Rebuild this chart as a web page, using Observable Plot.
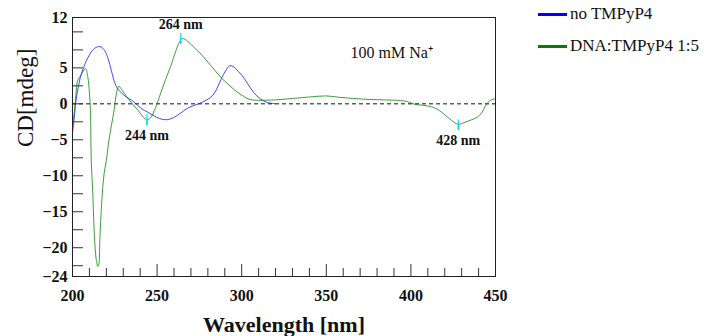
<!DOCTYPE html>
<html>
<head>
<meta charset="utf-8">
<script src="https://cdn.jsdelivr.net/npm/d3@7"></script>
<script src="https://cdn.jsdelivr.net/npm/@observablehq/plot@0.6"></script>
<style>
  html, body { margin: 0; padding: 0; background: #fff; }
  #wrap { position: relative; width: 704px; height: 336px; overflow: hidden; }
  #legend { position: absolute; left: 538px; top: 0; font-family: "Liberation Serif", serif; font-size: 17px; color: #111; }
  .item { position: absolute; white-space: nowrap; display: flex; align-items: center; }
  .swatch { display: inline-block; width: 29px; height: 3px; margin-right: 3px; }
</style>
</head>
<body>
<div id="wrap"><div id="legend"></div></div>
<script>
// ---- Data ----
const seriesNames = ["no TMPyP4", "DNA:TMPyP4 1:5"];
const seriesColors = ["#0000ff", "#008000"];

const blueWl = [200, 201, 202, 203, 204, 205, 206.5, 208, 210, 212, 214, 215.5, 217, 219, 221, 223, 225, 227, 229, 232, 235, 238, 241, 244, 247, 250, 253, 256, 259, 262, 265, 268, 271, 275, 279, 283, 285.5, 288, 290.5, 293, 295.5, 298, 300, 303, 307, 311, 315, 320];
const blueCD = [-4.1, -2.0, 0.3, 1.8, 3.0, 4.0, 5.0, 5.9, 6.8, 7.5, 7.85, 7.95, 7.9, 7.4, 6.3, 4.6, 2.9, 2.0, 1.5, 0.9, 0.5, -0.1, -0.7, -1.1, -1.5, -1.9, -2.15, -2.2, -2.0, -1.6, -1.1, -0.6, -0.3, 0.05, 0.5, 1.2, 2.2, 3.5, 4.6, 5.3, 5.1, 4.5, 4.0, 3.0, 1.6, 0.7, 0.2, 0.0];

const greenWl = [200, 201, 202, 203, 205, 207.7, 209, 210, 210.6, 211.1, 212, 213, 214, 215, 215.6, 216.2, 217.6, 218.8, 220, 221.5, 223, 224.4, 225.5, 226.5, 227.4, 229, 232, 235, 238, 241, 243, 244.5, 246.5, 249, 252, 255, 258, 261, 263, 265, 268, 272, 276, 280, 284, 288, 292, 296, 300, 305, 310, 320, 330, 340, 350, 358, 366, 376, 385, 394, 398, 402, 407, 412, 416, 420, 424, 428, 432, 436, 439, 442, 444, 446, 448, 450];
const greenCD = [-3.0, -1.3, 1.2, 3.2, 4.0, 4.9, 3.8, 1.5, -0.9, -7.9, -12.5, -18.6, -21.6, -22.6, -22.2, -18.6, -12.5, -9.5, -7.9, -5.1, -3.0, -1.2, 0.8, 2.0, 2.45, 2.0, 1.0, 0.1, -0.7, -1.6, -2.1, -2.25, -1.8, -0.6, 1.4, 3.4, 5.2, 7.3, 8.5, 9.1, 8.7, 7.8, 6.9, 5.8, 4.7, 3.6, 2.7, 1.9, 1.2, 0.6, 0.5, 0.55, 0.75, 0.95, 1.1, 0.9, 0.75, 0.6, 0.55, 0.45, 0.3, -0.05, -0.2, -0.4, -0.8, -1.5, -2.3, -2.85, -2.55, -2.2, -1.9, -1.2, -0.3, 0.3, 0.6, 0.7];

const peakWl = [264, 244, 428];
const peakCD = [9.1, -2.2, -2.9];
const peakLabels = ["264 nm", "244 nm", "428 nm"];
const peakLabelAbove = [true, false, false];

const xTicksMajor = [200, 250, 300, 350, 400, 450];
const xTicksMinor = d3.range(210, 450, 10).filter(v => v % 50 !== 0);
const yTickLabels = [12, 5, 0, -5, -10, -15, -20, -24];
const yTicksMinor = d3.range(-22.5, 12, 2.5);

const xLabel = "Wavelength [nm]";
const yLabel = "CD[mdeg]";
const note = "100 mM Na\u207A";

// ---- Build tables ----
const blue = blueWl.map((w, i) => ({ w, cd: blueCD[i] }));
const green = greenWl.map((w, i) => ({ w, cd: greenCD[i] }));
const peaks = peakWl.map((w, i) => ({ w, cd: peakCD[i], label: peakLabels[i], above: peakLabelAbove[i] }));

const W = 704, H = 336;
const mL = 72, mR = 209, mT = 17, mB = 60;
const plotW = W - mL - mR, plotH = H - mT - mB;
const FF = "'Liberation Serif', 'Times New Roman', serif";

const chart = Plot.plot({
  width: W, height: H,
  marginLeft: mL, marginRight: mR, marginTop: mT, marginBottom: mB,
  style: { fontFamily: FF, background: "#fff", color: "#111" },
  x: { domain: [200, 450] },
  y: { domain: [-24, 12] },
  marks: [
    Plot.ruleY([0], { stroke: "#111", strokeDasharray: "4,3", strokeWidth: 1 }),
    Plot.line(blue, { x: "w", y: "cd", stroke: seriesColors[0], strokeWidth: 0.9, strokeOpacity: 0.8, curve: "catmull-rom" }),
    Plot.line(green, { x: "w", y: "cd", stroke: seriesColors[1], strokeWidth: 0.9, strokeOpacity: 0.85, curve: "catmull-rom" }),
    Plot.vector(peaks, { x: "w", y: "cd", length: 10, rotate: 0, anchor: "middle", shape: "spike", r: 0.3, stroke: "#00e0f0", fill: "#00e0f0", strokeWidth: 1.1 }),
    Plot.text(peaks.filter(d => d.above), { x: "w", y: "cd", text: "label", dy: -14, fontWeight: "bold", fontSize: 14, fill: "#111", fontFamily: FF }),
    Plot.text(peaks.filter(d => !d.above), { x: "w", y: "cd", text: "label", dy: 16, fontWeight: "bold", fontSize: 14, fill: "#111", fontFamily: FF }),
    // frame ticks
    Plot.tickX(xTicksMajor, { x: d => d, insetTop: plotH - 12, stroke: "#333" }),
    Plot.tickX(xTicksMinor, { x: d => d, insetTop: plotH - 8, stroke: "#333" }),
    Plot.tickY(yTicksMinor, { y: d => d, insetRight: plotW - 11, stroke: "#333" }),
    Plot.axisX(xTicksMajor, { tickSize: 0, tickPadding: 13, fontSize: 16, fontWeight: "bold", label: null, fontFamily: FF }),
    Plot.axisY(yTickLabels, { tickSize: 0, tickPadding: 5, fontSize: 16, fontWeight: "bold", label: null, fontFamily: FF }),
    Plot.frame({ stroke: "#222" }),
    Plot.text([note], { frameAnchor: "top-left", dx: 278, dy: 35, textAnchor: "start", lineAnchor: "middle", fontSize: 16, fill: "#111", fontFamily: FF }),
    Plot.text([xLabel], { frameAnchor: "bottom", dy: 48, lineAnchor: "middle", fontSize: 22, fontWeight: "bold", fill: "#111", letterSpacing: "-0.4px", fontFamily: FF }),
    Plot.text([yLabel], { frameAnchor: "left", dx: -47, rotate: -90, lineAnchor: "middle", fontSize: 23, fill: "#111", fontFamily: FF })
  ]
});
document.getElementById("wrap").prepend(chart);

// ---- Legend ----
const legend = document.getElementById("legend");
const legendTops = [14, 46];
seriesNames.forEach((name, i) => {
  const item = document.createElement("div");
  item.className = "item";
  item.style.top = (legendTops[i] - 10) + "px";
  item.style.height = "20px";
  const sw = document.createElement("span");
  sw.className = "swatch";
  sw.style.background = seriesColors[i];
  item.appendChild(sw);
  item.appendChild(document.createTextNode(name));
  legend.appendChild(item);
});
</script>
</body>
</html>
